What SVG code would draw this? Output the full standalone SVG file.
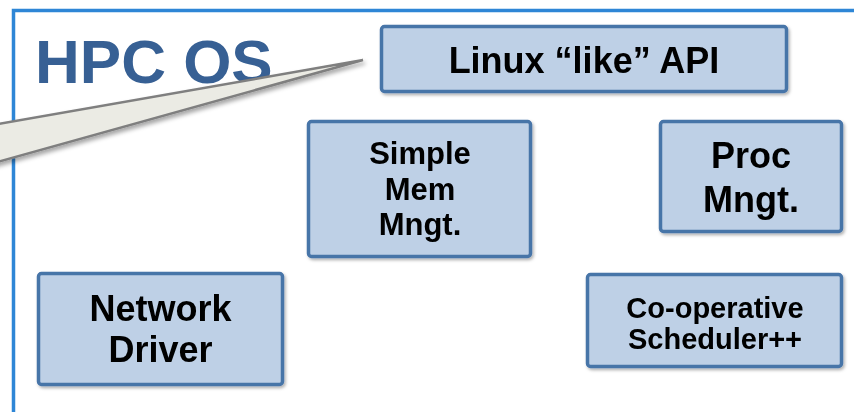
<svg xmlns="http://www.w3.org/2000/svg" width="854" height="412" viewBox="0 0 854 412">
  <defs>
    <filter id="sh" x="-10%" y="-10%" width="125%" height="130%">
      <feDropShadow dx="1.5" dy="2" stdDeviation="1.5" flood-color="#000" flood-opacity="0.3"/>
    </filter>
    <filter id="csh" x="-10%" y="-30%" width="120%" height="170%">
      <feDropShadow dx="2" dy="3" stdDeviation="2" flood-color="#000" flood-opacity="0.35"/>
    </filter>
  </defs>
  <style>
    .box { fill: #BED0E6; stroke: #4774A8; stroke-width: 3.5; }
    .lbl { font-family: "Liberation Sans", Arial, sans-serif; font-weight: bold; fill: #000; text-anchor: middle; }
    .frame { fill: none; stroke: #2E86D6; stroke-width: 3.5; }
  </style>
  <rect width="854" height="412" fill="#FFFFFF"/>
  <g id="frame">
    <path class="frame" d="M13.5,412 L13.5,10.5 L860,10.5"/>
  </g>
  <g id="title">
    <text x="35" y="83" font-family="Liberation Sans, Arial, sans-serif" font-weight="bold" font-size="62" fill="#376094">HPC OS</text>
  </g>
  <g id="linux-api" filter="url(#sh)">
    <rect class="box" x="381.5" y="26.5" width="405" height="65" rx="3"/>
    <text class="lbl" x="584" y="73" font-size="36">Linux “like” API</text>
  </g>
  <g id="simple-mem" filter="url(#sh)">
    <rect class="box" x="308.5" y="121.5" width="222" height="135" rx="3"/>
    <text class="lbl" x="420" y="164" font-size="31">Simple</text>
    <text class="lbl" x="420" y="200" font-size="31">Mem</text>
    <text class="lbl" x="420" y="235" font-size="31">Mngt.</text>
  </g>
  <g id="proc-mngt" filter="url(#sh)">
    <rect class="box" x="660.5" y="121.5" width="181" height="110" rx="3"/>
    <text class="lbl" x="751" y="168" font-size="36">Proc</text>
    <text class="lbl" x="751" y="212" font-size="36">Mngt.</text>
  </g>
  <g id="network-driver" filter="url(#sh)">
    <rect class="box" x="38.5" y="273.5" width="244" height="111" rx="3"/>
    <text class="lbl" x="160.5" y="321" font-size="36">Network</text>
    <text class="lbl" x="160.5" y="362" font-size="36">Driver</text>
  </g>
  <g id="scheduler" filter="url(#sh)">
    <rect class="box" x="587.5" y="274.5" width="254" height="92" rx="3"/>
    <text class="lbl" x="715" y="318" font-size="29">Co-operative</text>
    <text class="lbl" x="715" y="349" font-size="29">Scheduler++</text>
  </g>
  <g id="callout" filter="url(#csh)">
    <polygon points="-10,125.5 363,60 -10,164" fill="#EBEBE4" stroke="#7F7F7F" stroke-width="2.5" stroke-linejoin="miter"/>
  </g>
</svg>
